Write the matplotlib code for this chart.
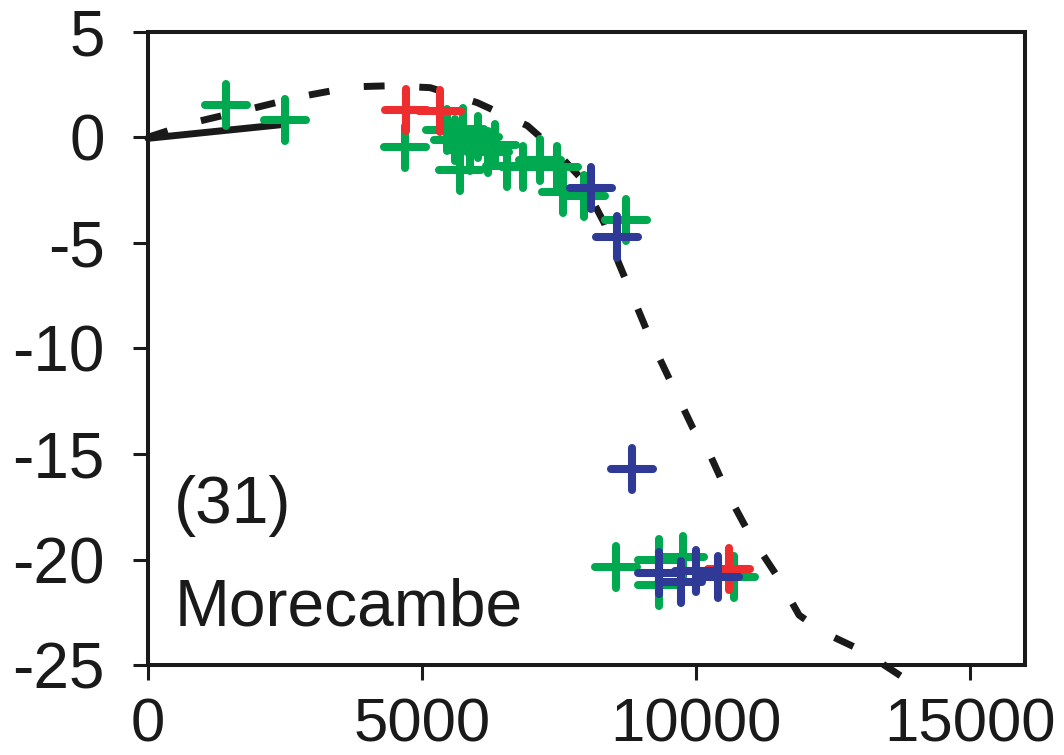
import numpy as np
import matplotlib
matplotlib.use("Agg")
import matplotlib.pyplot as plt
from matplotlib.markers import MarkerStyle

plt.rcParams['font.family'] = ['Liberation Sans', 'DejaVu Sans']
plt.rcParams['axes.unicode_minus'] = False

# model curve (dashed) and the short solid segment near the origin
curve_x = [0, 816, 1804, 2774, 3743, 4420, 5151, 6011, 6925, 7384, 7896, 8335, 8591,
           9177, 9945, 10219, 10585, 10988, 11482, 11884, 12323, 13055, 14079]
curve_y = [0, 0.69, 1.30, 1.92, 2.39, 2.44, 2.35, 1.64, 0.55, -0.50, -1.92, -4.10, -5.95,
           -9.60, -13.77, -14.81, -16.90, -18.84, -20.78, -22.63, -23.44, -24.34, -26.09]
solid_x = [0, 2408]
solid_y = [-0.05, 0.59]

# index points
green_x = [1420, 2495, 4694, 5463, 5756, 6030, 5609, 5884, 5701, 6213, 6341, 6560, 6853,
           7164, 7475, 7567, 7951, 8720, 8536, 9323, 9323, 9762, 10695]
green_y = [1.54, 0.83, -0.45, 0.36, 0.40, 0.02, -0.12, -0.59, -1.54, -0.69, -0.36, -1.35, -1.40,
           -1.07, -1.40, -2.58, -2.77, -3.91, -20.36, -20.02, -21.21, -19.88, -20.83]
red_x = [4713, 5335, 10604]
red_y = [1.30, 1.26, -20.45]
blue_x = [8080, 8556, 8830, 9324, 9724, 9999, 10404]
blue_y = [-2.39, -4.72, -15.72, -20.64, -21.07, -20.55, -20.83]

fig = plt.figure(figsize=(10.64, 7.55), dpi=100)
ax = fig.add_axes([0.139, 0.119, 0.824, 0.839])

ax.plot(curve_x, curve_y, color='#1a1a1a', lw=5, dashes=(3.0, 5.0), clip_on=False,
        dash_capstyle='butt', zorder=2)
ax.plot(solid_x, solid_y, color='#1a1a1a', lw=5, solid_capstyle='round', clip_on=False, zorder=2)

plus = MarkerStyle('+', capstyle='round')
for xs, ys, col in [(green_x, green_y, '#00A850'),
                    (red_x, red_y, '#EE2E2E'),
                    (blue_x, blue_y, '#2E3A96')]:
    ax.plot(xs, ys, linestyle='none', marker=plus, markersize=30, markeredgewidth=5.8,
            color=col, zorder=3)

ax.set_xlim(0, 16000)
ax.set_ylim(-25, 5)
ax.set_xticks([0, 5000, 10000, 15000])
ax.set_yticks([5, 0, -5, -10, -15, -20, -25])

for sp in ax.spines.values():
    sp.set_linewidth(2.9)
    sp.set_color('#1a1a1a')
ax.tick_params(axis='both', direction='out', length=11, width=2.2,
               color='#1a1a1a', labelcolor='#1a1a1a')
ax.tick_params(axis='x', pad=12, labelsize=44.5)
ax.tick_params(axis='y', pad=20, labelsize=46)

ax.text(0.030, 0.224, '(31)', transform=ax.transAxes, fontsize=47.5, va='baseline',
        ha='left', color='#1a1a1a')
ax.text(0.030, 0.063, 'Morecambe', transform=ax.transAxes, fontsize=47.5, va='baseline',
        ha='left', color='#1a1a1a')

fig.savefig('out.png', dpi=100)
